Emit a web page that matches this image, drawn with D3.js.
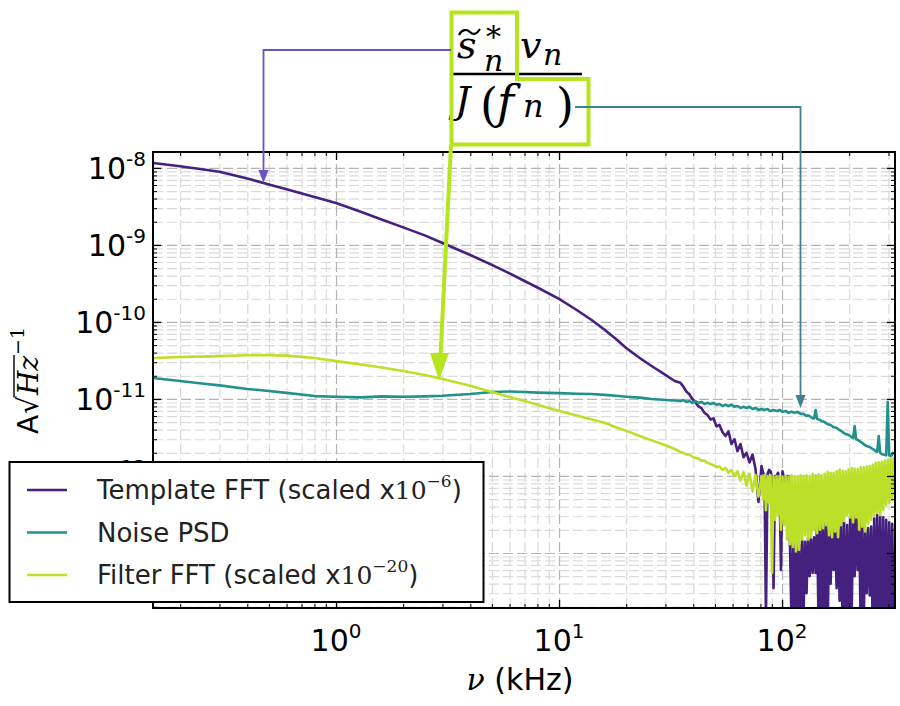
<!DOCTYPE html>
<html><head><meta charset="utf-8">
<script src="https://cdn.jsdelivr.net/npm/d3@7"></script>
<style>body{margin:0;background:#fff;} svg{display:block;}</style>
</head><body>
<svg id="chart" width="900" height="706"></svg>
<script>
// ---------------- DATA ----------------
const freqKHz = [0.151, 0.2, 0.25, 0.3, 0.4, 0.5, 0.6, 0.8, 1.0, 1.3, 1.6, 2.0, 2.5, 3.0, 4.0, 5.0, 6.0, 7.0, 8.0, 10, 12, 14, 16, 18, 20, 23, 26, 30, 33,
  35, 36.1, 37.2, 38.4, 39.6, 40.9, 42.2, 43.5, 44.9, 46.3, 47.8, 49.3, 50.8, 52.4, 54.1, 55.8, 57.5, 59.3, 61.2, 63.1, 65.1, 67.2, 69.3, 71.5, 73.7, 76.0, 78.4,
  80.9, 82.2, 83.4, 84.7, 86.1, 87.4, 88.8, 90.2, 91.6, 93.0,
  94.4, 95.9, 97.4, 98.9, 100.5, 102.1, 103.7, 105.3, 106.9, 108.6,
  110.3, 112.0, 113.8, 115.6, 117.4, 119.2, 121.1, 123.0, 124.9, 126.8,
  128.8, 130.8, 132.9, 135.0, 137.1, 139.2, 141.4, 143.6, 145.8, 148.1,
  150.4, 152.8, 155.2, 157.6, 160.1, 162.6, 165.1, 167.7, 170.3, 173.0,
  175.7, 178.4, 181.2, 184.0, 186.9, 189.8, 192.8, 195.8, 198.9, 202.0,
  205.2, 208.4, 211.6, 214.9, 218.3, 221.7, 225.2, 228.7, 232.3, 235.9,
  239.6, 243.4, 247.2, 251.1, 255.0, 259.0, 263.0, 267.1, 271.3, 275.5,
  279.8, 284.2, 288.6, 293.1, 297.7, 302.4, 307.1, 311.9, 316.8];

const templateFFT = [1.16e-8, 1.05e-8, 9.6e-9, 8.9e-9, 7.3e-9, 6.1e-9, 5.3e-9, 4.2e-9, 3.5e-9, 2.68e-9, 2.14e-9, 1.69e-9, 1.33e-9, 1.06e-9, 7.4e-10, 5.5e-10, 4.27e-10, 3.4e-10, 2.8e-10, 1.99e-10, 1.43e-10, 1.06e-10, 7.9e-11, 6.0e-11, 4.6e-11, 3.4e-11, 2.68e-11, 2.05e-11, 1.71e-11,
  1.62e-11, 1.45e-11, 1.25e-11, 1.15e-11, 1.0e-11, 9.0e-12, 8.0e-12, 7.6e-12, 6.6e-12, 6.2e-12, 5.4e-12, 5.6e-12, 4.4e-12, 4.6e-12, 3.7e-12, 3.3e-12, 3.8e-12, 2.6e-12, 3.0e-12, 2.1e-12, 2.6e-12, 1.75e-12, 2.0e-12, 1.5e-12, 1.9e-12, 1.25e-12, 4.6e-13,
  1.35e-12, 1.1e-12, 1.0e-12, 1.5e-14, 1.05e-12, 1.2e-12, 1.15e-12, 9e-13, 3.5e-14, 1.0e-12,
  1.0e-12, 1.1e-12, 8e-13, 6.0e-14, 1.15e-12, 9e-13, 2.7e-13, 1.0e-12, 1.0e-12, 1.2e-13,
  1.2e-14, 1.4e-13, 1.0e-14, 1.5e-13, 1.2e-14, 1.3e-13, 1.0e-14, 1.5e-13, 1.6e-14, 1.4e-13,
  3.0e-14, 1.6e-13, 5.0e-14, 1.5e-13, 5.5e-14, 1.6e-13, 5.5e-14, 2.5e-13, 1.2e-14, 2.7e-13,
  1.0e-14, 2.6e-13, 1.2e-14, 2.7e-13, 1.0e-14, 2.0e-13, 4.0e-14, 2.1e-13, 6.0e-14, 2.0e-13,
  3.5e-14, 2.1e-13, 2.4e-14, 2.7e-13, 1.0e-14, 2.5e-13, 1.0e-14, 2.3e-13, 1.2e-14, 3.0e-13,
  1.5e-14, 3.4e-13, 5.0e-14, 3.2e-13, 6.0e-14, 2.9e-13, 1.0e-14, 2.5e-13, 1.0e-14, 2.0e-13,
  3.0e-14, 2.1e-13, 2.8e-14, 2.2e-13, 1.0e-14, 2.8e-13, 1.0e-14, 3.1e-13, 1.2e-14, 3.0e-13,
  1.0e-14, 2.9e-13, 1.0e-14, 2.7e-13, 1.5e-14, 2.5e-13, 1.0e-14, 2.4e-13, 1.8e-14];

const noisePSD = [1.87e-11, 1.71e-11, 1.59e-11, 1.5e-11, 1.35e-11, 1.27e-11, 1.2e-11, 1.09e-11, 1.07e-11, 1.05e-11, 1.08e-11, 1.07e-11, 1.08e-11, 1.1e-11, 1.16e-11, 1.23e-11, 1.25e-11, 1.23e-11, 1.21e-11, 1.19e-11, 1.17e-11, 1.16e-11, 1.13e-11, 1.1e-11, 1.07e-11, 1.04e-11, 1.0e-11, 9.7e-12, 9.55e-12,
  9.4e-12, 9.7e-12, 9.15e-12, 9.4e-12, 8.9e-12, 9.4e-12, 8.9e-12, 9.15e-12, 8.6e-12, 8.9e-12, 8.6e-12, 8.9e-12, 8.4e-12, 8.6e-12, 8.1e-12, 8.4e-12, 8.1e-12, 8.4e-12, 7.9e-12, 8.1e-12, 7.65e-12, 7.9e-12, 7.65e-12, 7.9e-12, 7.4e-12, 7.65e-12, 7.2e-12,
  7.4e-12, 7.3e-12, 7.2e-12, 7.3e-12, 7.4e-12, 7.1e-12, 7.0e-12, 7.1e-12, 7.2e-12, 7.1e-12,
  7.0e-12, 7.0e-12, 7.2e-12, 7.0e-12, 6.8e-12, 6.9e-12, 7.0e-12, 6.8e-12, 6.6e-12, 6.7e-12,
  6.8e-12, 6.7e-12, 6.6e-12, 6.7e-12, 6.8e-12, 6.6e-12, 6.4e-12, 6.4e-12, 6.4e-12, 6.2e-12,
  6.0e-12, 6.1e-12, 6.0e-12, 5.8e-12, 5.6e-12, 5.6e-12, 7.2e-12, 5.5e-12, 5.45e-12, 5.3e-12,
  5.15e-12, 5.1e-12, 5.0e-12, 4.85e-12, 4.7e-12, 4.65e-12, 4.6e-12, 4.45e-12, 4.3e-12, 4.25e-12,
  4.2e-12, 4.05e-12, 3.95e-12, 3.85e-12, 3.7e-12, 3.6e-12, 3.5e-12, 3.45e-12, 3.4e-12, 3.3e-12,
  3.2e-12, 3.1e-12, 4.45e-12, 3.0e-12, 2.94e-12, 2.85e-12, 2.77e-12, 2.7e-12, 2.6e-12, 2.5e-12,
  2.45e-12, 2.42e-12, 2.38e-12, 2.3e-12, 2.24e-12, 2.17e-12, 2.1e-12, 2.05e-12, 3.3e-12, 2.0e-12,
  1.93e-12, 1.9e-12, 1.88e-12, 1.85e-12, 9.15e-12, 1.84e-12, 1.82e-12, 1.9e-12, 2.05e-12];

const filterFFT = [3.4e-11, 3.5e-11, 3.55e-11, 3.6e-11, 3.7e-11, 3.7e-11, 3.65e-11, 3.4e-11, 3.1e-11, 2.8e-11, 2.56e-11, 2.31e-11, 2.05e-11, 1.82e-11, 1.48e-11, 1.23e-11, 1.06e-11, 9.4e-12, 8.4e-12, 7.0e-12, 6.1e-12, 5.4e-12, 4.9e-12, 4.3e-12, 3.85e-12, 3.3e-12, 2.9e-12, 2.5e-12, 2.24e-12,
  2.05e-12, 2.0e-12, 1.9e-12, 1.9e-12, 1.78e-12, 1.72e-12, 1.68e-12, 1.58e-12, 1.58e-12, 1.48e-12, 1.43e-12, 1.38e-12, 1.3e-12, 1.33e-12, 1.2e-12, 1.27e-12, 1.1e-12, 1.2e-12, 1.0e-12, 1.15e-12, 8.7e-13, 1.13e-12, 7.5e-13, 1.07e-12, 6.3e-13, 1.03e-12, 5.4e-13,
  1.0e-12, 5.0e-13, 1.02e-12, 3.6e-13, 1.0e-12, 4.5e-13, 1.02e-12, 5.5e-14, 9.8e-13, 2.7e-13,
  1.0e-12, 3.1e-13, 1.0e-12, 2.0e-13, 9.8e-13, 2.3e-13, 1.0e-12, 1.5e-13, 9.8e-13, 1.3e-13,
  1.02e-12, 1.2e-13, 1.0e-12, 1.05e-13, 1.0e-12, 1.1e-13, 1.02e-12, 1.5e-13, 1.0e-12, 1.7e-13,
  1.02e-12, 1.5e-13, 1.0e-12, 1.6e-13, 1.07e-12, 2.0e-13, 1.02e-12, 1.8e-13, 1.05e-12, 2.0e-13,
  1.02e-12, 2.1e-13, 1.07e-12, 2.3e-13, 1.13e-12, 1.7e-13, 1.1e-12, 1.6e-13, 1.1e-12, 1.9e-13,
  1.15e-12, 1.6e-13, 1.2e-12, 2.3e-13, 1.17e-12, 2.6e-13, 1.15e-12, 3.1e-13, 1.22e-12, 2.9e-13,
  1.27e-12, 2.5e-13, 1.25e-12, 2.9e-13, 1.23e-12, 2.0e-13, 1.3e-12, 2.2e-13, 1.3e-12, 1.9e-13,
  1.33e-12, 2.4e-13, 1.35e-12, 2.7e-13, 1.4e-12, 3.1e-13, 1.48e-12, 3.3e-13, 1.5e-12, 3.1e-13,
  1.53e-12, 3.6e-13, 1.58e-12, 4.2e-13, 1.62e-12, 4.5e-13, 1.7e-12, 4.9e-13, 1.78e-12];

const xTickExponents = [0, 1, 2];
const yTickExponents = [-8, -9, -10, -11, -12, -13];
const yTickLabelExponents = [-8, -9, -10, -11, -12];
const legendLabels = ["Template FFT (scaled x", "Noise PSD", "Filter FFT (scaled x"];
const legendScaleExp = ["\u22126", null, "\u221220"];
const xAxisTitle = " (kHz)";

// ---------------- LAYOUT ----------------
const svg = d3.select("#chart");
const P = {l: 153, r: 895, t: 152, b: 608};
const x = d3.scaleLog().domain([0.1511, 321]).range([P.l, P.r]);
const y = d3.scaleLog().domain([1.93e-14, 1.61e-8]).range([P.b, P.t]);

const colTemplate = "#45217f", colNoise = "#23918b", colFilter = "#bcdf27";
const serif = "DejaVu Serif", sans = "DejaVu Sans";

const xMajor = xTickExponents.map(e => Math.pow(10, e));
const yMajor = yTickExponents.map(e => Math.pow(10, e));
const xMinor = [], yMinor = [];
for (let k = -1; k <= 2; k++) for (let m = 2; m <= 9; m++) {
  const v = m * Math.pow(10, k);
  if (v >= x.domain()[0] && v <= x.domain()[1]) xMinor.push(v);
}
for (let k = -14; k <= -9; k++) for (let m = 2; m <= 9; m++) {
  const v = m * Math.pow(10, k);
  if (v >= y.domain()[0] && v <= y.domain()[1]) yMinor.push(v);
}

svg.append("rect").attr("width", 900).attr("height", 706).attr("fill", "#fff");

// grid
function gridStyle(g, color) {
  g.select(".domain").remove();
  g.selectAll("line").attr("stroke", color).attr("stroke-width", 1.2).attr("stroke-dasharray", "10,4");
}
const grid = svg.append("g");
grid.append("g").attr("transform", `translate(0,${P.b})`)
  .call(d3.axisBottom(x).tickValues(xMinor).tickSize(-(P.b - P.t)).tickFormat(""))
  .call(g => gridStyle(g, "#dadada"));
grid.append("g").attr("transform", `translate(${P.l},0)`)
  .call(d3.axisLeft(y).tickValues(yMinor).tickSize(-(P.r - P.l)).tickFormat(""))
  .call(g => gridStyle(g, "#dadada"));
grid.append("g").attr("transform", `translate(0,${P.b})`)
  .call(d3.axisBottom(x).tickValues(xMajor).tickSize(-(P.b - P.t)).tickFormat(""))
  .call(g => gridStyle(g, "#b4b4b4"));
grid.append("g").attr("transform", `translate(${P.l},0)`)
  .call(d3.axisLeft(y).tickValues(yMajor).tickSize(-(P.r - P.l)).tickFormat(""))
  .call(g => gridStyle(g, "#b4b4b4"));

// data
svg.append("clipPath").attr("id", "clip").append("rect")
  .attr("x", P.l).attr("y", P.t).attr("width", P.r - P.l).attr("height", P.b - P.t);
const line = d3.line().x((d, i) => x(freqKHz[i])).y(d => y(d));
const dataG = svg.append("g").attr("clip-path", "url(#clip)");
[[templateFFT, colTemplate], [noisePSD, colNoise], [filterFFT, colFilter]].forEach(([vals, c]) => {
  dataG.append("path").datum(vals).attr("d", line).attr("fill", "none")
    .attr("stroke", c).attr("stroke-width", 2.6).attr("stroke-linejoin", "round");
});

// ticks (inward, all sides)
function tickStyle(g, w) {
  g.select(".domain").remove();
  g.selectAll("line").attr("stroke", "#000").attr("stroke-width", w);
}
[[xMajor, 8, 1.3], [xMinor, 4, 1]].forEach(([vals, len, w]) => {
  svg.append("g").attr("transform", `translate(0,${P.b})`)
    .call(d3.axisBottom(x).tickValues(vals).tickSize(-len).tickFormat("")).call(g => tickStyle(g, w));
  svg.append("g").attr("transform", `translate(0,${P.t})`)
    .call(d3.axisTop(x).tickValues(vals).tickSize(-len).tickFormat("")).call(g => tickStyle(g, w));
});
[[yMajor, 8, 1.3], [yMinor, 4, 1]].forEach(([vals, len, w]) => {
  svg.append("g").attr("transform", `translate(${P.l},0)`)
    .call(d3.axisLeft(y).tickValues(vals).tickSize(-len).tickFormat("")).call(g => tickStyle(g, w));
  svg.append("g").attr("transform", `translate(${P.r},0)`)
    .call(d3.axisRight(y).tickValues(vals).tickSize(-len).tickFormat("")).call(g => tickStyle(g, w));
});
svg.append("rect").attr("x", P.l).attr("y", P.t).attr("width", P.r - P.l).attr("height", P.b - P.t)
  .attr("fill", "none").attr("stroke", "#000").attr("stroke-width", 2);

// tick labels
yTickLabelExponents.forEach(e => {
  const t = svg.append("text").attr("x", 146).attr("y", y(Math.pow(10, e)) + 11)
    .attr("text-anchor", "end").attr("font-family", sans).attr("font-size", 30).attr("fill", "#000");
  t.append("tspan").text("10");
  t.append("tspan").attr("font-size", 20).attr("dy", -13).text(String(e));
});
xTickExponents.forEach(e => {
  const t = svg.append("text").attr("x", x(Math.pow(10, e))).attr("y", 651)
    .attr("text-anchor", "middle").attr("font-family", sans).attr("font-size", 30).attr("fill", "#000");
  t.append("tspan").text("10");
  t.append("tspan").attr("font-size", 20).attr("dy", -13).text(String(e));
});

// x axis title
const xt = svg.append("text").attr("x", (P.l + P.r) / 2 - 4).attr("y", 690).attr("text-anchor", "middle")
  .attr("font-size", 30).attr("fill", "#000");
xt.append("tspan").attr("font-family", serif).attr("font-style", "italic").text("\u03bd");
xt.append("tspan").attr("font-family", sans).text(xAxisTitle);

// y axis title  A sqrt(Hz)^-1
const yt = svg.append("g").attr("transform", `translate(38,${(P.t + P.b) / 2}) rotate(-90)`);
const parts = [
  {t: "A", ff: sans, fs: 28, st: "normal", dy: 0},
  {t: "\u221a", ff: serif, fs: 28, st: "normal", dy: 0},
  {t: "Hz", ff: serif, fs: 28, st: "italic", dy: 0},
  {t: "\u22121", ff: serif, fs: 19, st: "normal", dy: -14}
];
let cx = 0;
const nodes = parts.map(p => {
  const el = yt.append("text").attr("x", cx).attr("y", p.dy).attr("font-family", p.ff)
    .attr("font-size", p.fs).attr("font-style", p.st).attr("fill", "#000").text(p.t);
  const w = el.node().getComputedTextLength();
  const n = {el, x0: cx, w};
  cx += w + 1;
  return n;
});
const total = cx;
nodes.forEach(n => n.el.attr("x", n.x0 - total / 2));
const sq = nodes[1].el.node().getBBox();
yt.append("line").attr("x1", sq.x + sq.width - 1.5).attr("x2", nodes[2].x0 - total / 2 + nodes[2].w + 1)
  .attr("y1", sq.y + 2).attr("y2", sq.y + 2).attr("stroke", "#000").attr("stroke-width", 1.4);

// legend
const lg = svg.append("g");
lg.append("rect").attr("x", 9.5).attr("y", 462).attr("width", 474).attr("height", 140)
  .attr("fill", "#fff").attr("stroke", "#000").attr("stroke-width", 2);
const legendColors = [colTemplate, colNoise, colFilter];
legendLabels.forEach((lab, i) => {
  const cy = 490 + i * 42.5;
  lg.append("line").attr("x1", 27).attr("x2", 67).attr("y1", cy).attr("y2", cy)
    .attr("stroke", legendColors[i]).attr("stroke-width", 2.5);
  const t = lg.append("text").attr("x", 97).attr("y", cy + 9).attr("font-family", sans)
    .attr("font-size", 26).attr("fill", "#222");
  t.append("tspan").text(lab);
  if (legendScaleExp[i]) {
    t.append("tspan").attr("font-family", serif).attr("font-size", 25).text("10");
    t.append("tspan").attr("font-family", serif).attr("font-size", 17).attr("dy", -12).text(legendScaleExp[i]);
    t.append("tspan").attr("dy", 12).text(")");
  }
});

// ---------------- ANNOTATIONS ----------------
const an = svg.append("g");
function tx(s, px, py, size, italic) {
  an.append("text").attr("x", px).attr("y", py).attr("font-family", serif).attr("font-size", size)
    .attr("font-style", italic ? "italic" : "normal").attr("fill", "#000").text(s);
}
// numerator
tx("s", 457, 58, 38, true);
an.append("path").attr("d", "M459,35 C462,29 467,29 470,32 S476,35 480,29").attr("fill", "none")
  .attr("stroke", "#000").attr("stroke-width", 2.2);
tx("*", 486, 47, 30, false);
tx("n", 484, 71, 30, true);
tx("v", 520, 58, 38, true);
tx("n", 543, 65, 30, true);
an.append("line").attr("x1", 452).attr("x2", 582).attr("y1", 74).attr("y2", 74).attr("stroke", "#000").attr("stroke-width", 2.5);
// denominator
tx("J", 455, 113, 38, true);
tx("(", 480, 121, 46, false);
tx("f", 497, 118, 46, true);
tx("n", 523, 117, 32, true);
tx(")", 556, 121, 46, false);

// green outline boxes
const green = "#b5e51d";
an.append("path").attr("d", "M451.5,12.5 H517 V79 H588.5 V144.5 H451.5 Z")
  .attr("fill", "none").attr("stroke", green).attr("stroke-width", 4);
// green arrow
an.append("line").attr("x1", 451).attr("y1", 145).attr("x2", 440.5).attr("y2", 356)
  .attr("stroke", green).attr("stroke-width", 4);
an.append("path").attr("d", "M430,353 L449,353 L439,380 Z").attr("fill", green);

// purple arrow (template)
const purple = "#6b52c1";
an.append("path").attr("d", "M451,50 H263.5 V172").attr("fill", "none").attr("stroke", purple).attr("stroke-width", 1.8);
an.append("path").attr("d", "M258.5,170 L268.5,170 L263.5,183 Z").attr("fill", purple);

// teal arrow (noise)
const teal = "#3e8190";
an.append("path").attr("d", "M575,107 H800.5 V397").attr("fill", "none").attr("stroke", teal).attr("stroke-width", 1.8);
an.append("path").attr("d", "M795.5,395 L805.5,395 L800.5,408 Z").attr("fill", teal);
</script>
</body></html>
